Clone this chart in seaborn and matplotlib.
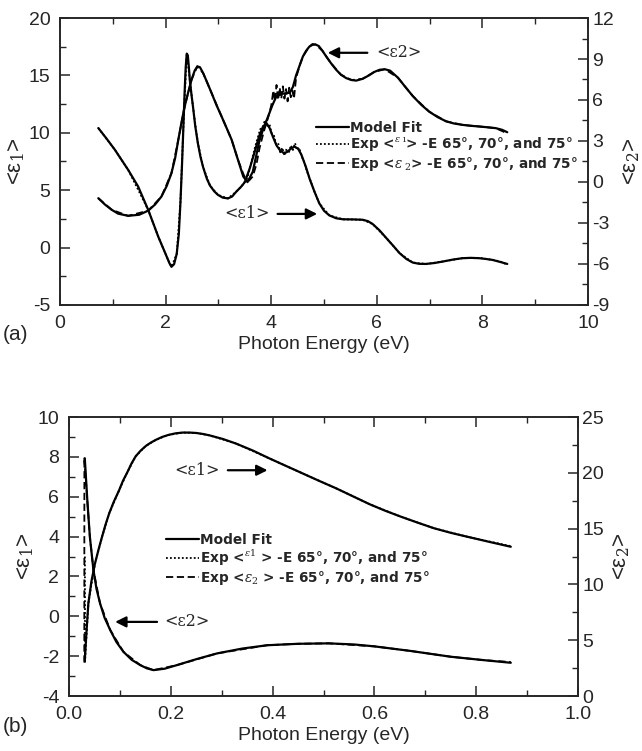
import matplotlib
matplotlib.use("Agg")
import matplotlib.pyplot as plt
from matplotlib.ticker import MultipleLocator, FormatStrFormatter
import seaborn as sns

# ---------------- data : panel (a) ----------------
# model fit <e1> (left axis)
a_e1_x = [0.725, 0.88, 1.04, 1.29, 1.48, 1.67, 1.86, 2.02, 2.07, 2.11, 2.16, 2.21, 2.25, 2.28, 2.31,
          2.34, 2.36, 2.38, 2.40, 2.42, 2.44, 2.46, 2.49, 2.52, 2.56, 2.61, 2.66, 2.71, 2.78, 2.84, 2.92,
          2.99, 3.08, 3.18, 3.26, 3.34, 3.42, 3.50, 3.60, 3.69, 3.77, 3.84, 3.91, 3.97, 4.03, 4.10, 4.16,
          4.23, 4.29, 4.37, 4.44, 4.51, 4.57, 4.65, 4.73, 4.82, 4.91, 5.00, 5.10, 5.23, 5.36, 5.55, 5.73,
          5.83, 5.92, 6.05, 6.18, 6.31, 6.43, 6.56, 6.68, 6.80, 6.93, 7.09, 7.25, 7.44, 7.62, 7.78, 7.94,
          8.07, 8.19, 8.33, 8.47]
a_e1_y = [10.41, 9.50, 8.51, 6.77, 5.31, 3.28, 0.95, -0.79, -1.35, -1.68, -1.45, -0.55, 1.20, 3.90, 7.20,
          11.00, 13.60, 15.70, 16.90, 16.75, 15.70, 14.50, 13.30, 12.20, 10.60, 9.10, 7.90, 7.00, 6.00, 5.40,
          4.90, 4.59, 4.35, 4.28, 4.45, 4.88, 5.25, 5.70, 7.00, 8.40, 9.70, 10.50, 10.84, 10.40, 9.67, 8.90,
          8.51, 8.25, 8.30, 8.60, 8.80, 8.60, 8.10, 7.10, 5.95, 4.85, 3.85, 3.20, 2.80, 2.55, 2.46, 2.45,
          2.42, 2.30, 2.05, 1.50, 0.82, 0.15, -0.49, -1.00, -1.31, -1.42, -1.43, -1.35, -1.22, -1.05, -0.93,
          -0.90, -0.93, -1.00, -1.08, -1.25, -1.43]

# model fit <e2> (right axis)
a_e2_x = [0.725, 0.85, 0.98, 1.10, 1.29, 1.50, 1.67, 1.80, 1.92, 2.02, 2.11, 2.18, 2.24, 2.30, 2.36,
          2.43, 2.49, 2.55, 2.60, 2.65, 2.71, 2.79, 2.87, 2.96, 3.06, 3.16, 3.25, 3.37, 3.47, 3.55, 3.65,
          3.78, 3.86, 3.94, 4.02, 4.10, 4.22, 4.35, 4.41, 4.47, 4.54, 4.60, 4.66, 4.72, 4.78, 4.84, 4.90,
          4.97, 5.04, 5.13, 5.23, 5.32, 5.42, 5.52, 5.61, 5.73, 5.85, 5.95, 6.05, 6.15, 6.25, 6.40, 6.54,
          6.68, 6.84, 6.99, 7.15, 7.31, 7.46, 7.62, 7.78, 7.94, 8.10, 8.25, 8.37, 8.47]
a_e2_y = [-1.19, -1.65, -2.04, -2.32, -2.48, -2.40, -2.10, -1.65, -1.07, -0.30, 0.64, 1.75, 3.09, 4.35,
          5.52, 6.60, 7.48, 8.15, 8.46, 8.40, 7.97, 7.25, 6.51, 5.65, 4.79, 3.90, 3.09, 1.62, 0.40, -0.01,
          0.74, 3.09, 4.00, 4.79, 5.60, 6.30, 6.46, 6.54, 6.95, 7.80, 8.55, 9.19, 9.60, 9.90, 10.04, 10.06,
          9.95, 9.60, 9.19, 8.70, 8.21, 7.85, 7.60, 7.46, 7.42, 7.55, 7.80, 8.05, 8.21, 8.25, 8.15, 7.63,
          6.95, 6.29, 5.65, 5.15, 4.75, 4.44, 4.28, 4.18, 4.11, 4.06, 4.00, 3.94, 3.82, 3.64]

# experimental <e1> (dotted, left axis)
a_x1_x = [0.725, 1.04, 1.29, 1.67, 1.86, 2.02, 2.11, 2.21, 2.28, 2.34, 2.40, 2.46, 2.52, 2.61, 2.71,
          2.84, 2.99, 3.18, 3.34, 3.45, 3.55, 3.62, 3.69, 3.74, 3.79, 3.84, 3.88, 3.93, 3.97, 4.01, 4.05,
          4.09, 4.13, 4.17, 4.21, 4.25, 4.29, 4.33, 4.37, 4.41, 4.45, 4.49, 4.53, 4.57, 4.62, 4.68, 4.73,
          4.82, 4.91, 5.10, 5.36, 5.73, 5.92, 6.18, 6.43, 6.68, 6.93, 7.25, 7.62, 7.94, 8.19, 8.33, 8.47]
a_x1_y = [10.41, 8.51, 6.77, 3.28, 0.95, -0.79, -1.68, -0.55, 3.90, 11.00, 16.90, 14.50, 12.20, 9.10, 7.00,
          5.40, 4.59, 4.28, 4.88, 5.40, 6.10, 7.40, 8.70, 9.50, 10.30, 10.50, 11.10, 10.60, 10.70, 9.90, 9.80,
          9.00, 9.10, 8.30, 8.70, 8.00, 8.60, 8.20, 8.90, 8.50, 9.10, 8.50, 8.70, 8.00, 7.50, 6.60, 6.00,
          4.85, 3.85, 2.80, 2.46, 2.42, 2.05, 0.82, -0.49, -1.31, -1.43, -1.22, -0.93, -0.90, -1.08, -1.20, -1.50]

# experimental <e2> (dashed, right axis)
a_x2_x = [0.725, 0.98, 1.29, 1.67, 1.92, 2.11, 2.24, 2.36, 2.49, 2.60, 2.71, 2.87, 3.06, 3.25, 3.37,
          3.47, 3.52, 3.58, 3.65, 3.72, 3.78, 3.86, 3.94, 4.00, 4.04, 4.07, 4.10, 4.13, 4.16, 4.19, 4.22,
          4.25, 4.28, 4.31, 4.34, 4.37, 4.40, 4.43, 4.47, 4.54, 4.60, 4.72, 4.78, 4.84, 4.97, 5.13, 5.32,
          5.52, 5.73, 5.95, 6.15, 6.40, 6.68, 6.99, 7.31, 7.62, 7.94, 8.25, 8.47]
a_x2_y = [-1.19, -2.04, -2.48, -2.10, -1.07, 0.64, 3.09, 5.52, 7.48, 8.46, 7.97, 6.51, 4.79, 3.09, 1.62,
          0.60, 0.20, 0.10, 0.40, 1.30, 2.50, 3.70, 4.70, 5.60, 6.70, 5.90, 7.10, 6.00, 6.90, 6.10, 7.00,
          6.10, 6.80, 5.90, 6.90, 6.20, 6.70, 6.10, 7.60, 8.55, 9.19, 9.90, 10.10, 10.06, 9.60, 8.70, 7.85,
          7.46, 7.55, 8.05, 8.25, 7.63, 6.29, 5.15, 4.44, 4.18, 4.06, 3.94, 3.55]

# ---------------- data : panel (b) ----------------
b_e1_x = [0.031, 0.034, 0.038, 0.044, 0.051, 0.058, 0.065, 0.072, 0.079, 0.088, 0.098, 0.106, 0.115,
          0.123, 0.131, 0.141, 0.151, 0.161, 0.171, 0.183, 0.195, 0.209, 0.223, 0.237, 0.250, 0.263, 0.276,
          0.302, 0.328, 0.361, 0.394, 0.426, 0.459, 0.492, 0.525, 0.558, 0.591, 0.621, 0.652, 0.685, 0.717,
          0.750, 0.783, 0.825, 0.868]
b_e1_y = [-2.20, -0.90, 0.65, 1.75, 2.65, 3.35, 4.00, 4.62, 5.17, 5.75, 6.30, 6.80, 7.25, 7.68, 8.03,
          8.32, 8.55, 8.72, 8.86, 9.00, 9.10, 9.18, 9.22, 9.22, 9.20, 9.15, 9.08, 8.90, 8.67, 8.32, 7.92,
          7.55, 7.17, 6.79, 6.42, 6.02, 5.62, 5.30, 5.00, 4.70, 4.42, 4.19, 3.99, 3.74, 3.49]

b_e2_x = [0.031, 0.036, 0.041, 0.048, 0.054, 0.061, 0.070, 0.081, 0.093, 0.107, 0.123, 0.140, 0.153,
          0.166, 0.188, 0.212, 0.250, 0.291, 0.340, 0.389, 0.450, 0.510, 0.560, 0.600, 0.671, 0.750, 0.816,
          0.868]
b_e2_y = [21.30, 17.50, 14.25, 11.29, 9.60, 8.30, 7.00, 5.91, 4.85, 3.96, 3.25, 2.77, 2.48, 2.32, 2.45,
          2.77, 3.30, 3.82, 4.25, 4.55, 4.68, 4.72, 4.62, 4.45, 4.04, 3.52, 3.21, 2.98]

b_x1_x = [0.0312, 0.0315, 0.0316, 0.038, 0.051, 0.065, 0.079, 0.098, 0.115, 0.131, 0.151, 0.171, 0.195,
          0.223, 0.250, 0.276, 0.328, 0.394, 0.459, 0.525, 0.591, 0.652, 0.717, 0.783, 0.868]
b_x1_y = [3.00, -2.35, -2.20, 0.65, 2.65, 4.00, 5.17, 6.30, 7.25, 8.03, 8.55, 8.86, 9.10, 9.22, 9.20,
          9.08, 8.67, 7.92, 7.17, 6.42, 5.62, 5.00, 4.42, 3.99, 3.52]

b_x2_x = [0.0300, 0.0302, 0.0306, 0.036, 0.041, 0.048, 0.061, 0.081, 0.107, 0.140, 0.166, 0.212, 0.291,
          0.389, 0.450, 0.510, 0.600, 0.671, 0.750, 0.816, 0.868]
b_x2_y = [3.00, 21.40, 21.00, 17.50, 14.25, 11.29, 8.30, 5.91, 3.96, 2.77, 2.32, 2.77, 3.82, 4.55,
          4.68, 4.72, 4.45, 4.04, 3.52, 3.21, 3.05]

legend_labels_a = ["Model Fit",
                   r"Exp <$^{\varepsilon\ \mathrm{\imath}}$> -E 65°, 70°, and 75°",
                   r"Exp <$\varepsilon_{\ 2}$> -E 65°, 70°, and 75°"]
legend_labels_b = ["Model Fit",
                   r"Exp <$^{\varepsilon\mathrm{1}}$ > -E 65°, 70°, and 75°",
                   r"Exp <$\varepsilon_{2}$ > -E 65°, 70°, and 75°"]

# ---------------- style ----------------
sns.set_style("ticks")
plt.rcParams["font.family"] = ["Liberation Sans", "DejaVu Sans"]
plt.rcParams["mathtext.fontset"] = "dejavuserif"
plt.rcParams["axes.unicode_minus"] = False
plt.rcParams["xtick.direction"] = "in"
plt.rcParams["ytick.direction"] = "in"
plt.rcParams["axes.linewidth"] = 1.2

fig = plt.figure(figsize=(6.42, 7.51), dpi=100)
ax1 = fig.add_axes([0.0935, 0.594, 0.8225, 0.382])
ax1r = ax1.twinx()
ax2 = fig.add_axes([0.1075, 0.0732, 0.7928, 0.3715])
ax2r = ax2.twinx()

LW = 1.6


def draw(ax, x, y, ls, lw, z=2):
    sns.lineplot(x=x, y=y, ax=ax, color="black", lw=lw, linestyle=ls, sort=False,
                 estimator=None, legend=False, zorder=z)
    return ax.lines[-1]


# panel (a)
h_fit = draw(ax1, a_e1_x, a_e1_y, "-", LW)
draw(ax1r, a_e2_x, a_e2_y, "-", LW)
h_x1 = draw(ax1, a_x1_x, a_x1_y, (0, (1, 1.2)), 1.3, z=3)
h_x2 = draw(ax1r, a_x2_x, a_x2_y, (0, (4, 2)), 1.3, z=3)

# panel (b)
g_fit = draw(ax2, b_e1_x, b_e1_y, "-", LW)
draw(ax2r, b_e2_x, b_e2_y, "-", LW)
g_x1 = draw(ax2, b_x1_x, b_x1_y, (0, (1, 1.2)), 1.3, z=3)
g_x2 = draw(ax2r, b_x2_x, b_x2_y, (0, (4, 2)), 1.3, z=3)

# axes setup
TICK_FS = 14
for ax in (ax1, ax1r, ax2, ax2r):
    ax.set_xlabel("")
    ax.set_ylabel("")

ax1.set_xlim(0, 10)
ax1.set_ylim(-5, 20)
ax1r.set_ylim(-9, 12)
ax1.xaxis.set_major_locator(MultipleLocator(2))
ax1.xaxis.set_minor_locator(MultipleLocator(1))
ax1.yaxis.set_major_locator(MultipleLocator(5))
ax1.yaxis.set_minor_locator(MultipleLocator(2.5))
ax1r.yaxis.set_major_locator(MultipleLocator(3))
ax1r.yaxis.set_minor_locator(MultipleLocator(1.5))

ax2.set_xlim(0, 1.0)
ax2.set_ylim(-4, 10)
ax2r.set_ylim(0, 25)
ax2.xaxis.set_major_locator(MultipleLocator(0.2))
ax2.xaxis.set_minor_locator(MultipleLocator(0.1))
ax2.xaxis.set_major_formatter(FormatStrFormatter("%.1f"))
ax2.yaxis.set_major_locator(MultipleLocator(2))
ax2.yaxis.set_minor_locator(MultipleLocator(1))
ax2r.yaxis.set_major_locator(MultipleLocator(5))
ax2r.yaxis.set_minor_locator(MultipleLocator(2.5))

for ax in (ax1, ax2):
    ax.tick_params(axis="x", which="both", top=True, bottom=True, direction="in")
    ax.tick_params(axis="y", which="both", left=True, right=False, direction="in")
    ax.tick_params(which="major", length=7, width=1.1, labelsize=TICK_FS)
    ax.tick_params(which="minor", length=4, width=1.0)
    ax.tick_params(axis="x", which="major", pad=7)
    ax.tick_params(axis="y", which="major", pad=7)
for ax in (ax1r, ax2r):
    ax.tick_params(axis="y", which="both", right=True, left=False, direction="in")
    ax.tick_params(which="major", length=7, width=1.1, labelsize=TICK_FS, pad=3)
    ax.tick_params(which="minor", length=4, width=1.0)

XL_FS = 14
YL_FS = 16
ax1.set_xlabel("Photon Energy (eV)", fontsize=XL_FS, labelpad=3)
ax2.set_xlabel("Photon Energy (eV)", fontsize=XL_FS, labelpad=3)
ax1.set_ylabel("<ε$_1$>", fontsize=YL_FS, labelpad=1)
ax2.set_ylabel("<ε$_1$>", fontsize=YL_FS, labelpad=1)
ax1r.set_ylabel("<ε$_2$>", fontsize=YL_FS, labelpad=5, rotation=90)
ax2r.set_ylabel("<ε$_2$>", fontsize=YL_FS, labelpad=5, rotation=90)

fig.text(0.004, 0.554, "(a)", fontsize=15, va="center")
fig.text(0.004, 0.032, "(b)", fontsize=15, va="center")

# legends
leg_kw = dict(frameon=False, handlelength=2.4, handletextpad=0.1, labelspacing=0.05,
              borderpad=0, borderaxespad=0, loc="upper left",
              prop={"weight": "bold", "size": 9.8, "family": ["DejaVu Sans"]})
lg1 = ax1r.legend([h_fit, h_x1, h_x2], legend_labels_a,
                  bbox_to_anchor=(316 / 642, 1 - 121 / 751), bbox_transform=fig.transFigure, **leg_kw)
lg2 = ax2r.legend([g_fit, g_x1, g_x2], legend_labels_b,
                  bbox_to_anchor=(166 / 642, 1 - 533 / 751), bbox_transform=fig.transFigure, **leg_kw)

# annotations (serif labels with arrows)
ANN = dict(fontsize=11.5, family=["DejaVu Serif"], ha="center", va="center")
arrow = dict(arrowstyle="-|>", lw=1.6, color="black", mutation_scale=16, shrinkA=0, shrinkB=0)
ax1.text(3.55, 2.93, "<ε1>", **ANN)
ax1.annotate("", xy=(4.87, 2.93), xytext=(4.12, 2.93), arrowprops=arrow)
ax1.text(6.41, 16.97, "<ε2>", **ANN)
ax1.annotate("", xy=(5.07, 16.97), xytext=(5.82, 16.97), arrowprops=arrow)

ax2.text(0.252, 7.33, "<ε1>", **ANN)
ax2.annotate("", xy=(0.390, 7.33), xytext=(0.312, 7.33), arrowprops=arrow)
ax2.text(0.231, -0.28, "<ε2>", **ANN)
ax2.annotate("", xy=(0.0906, -0.28), xytext=(0.173, -0.28), arrowprops=arrow)

fig.savefig("out.png", dpi=100)
